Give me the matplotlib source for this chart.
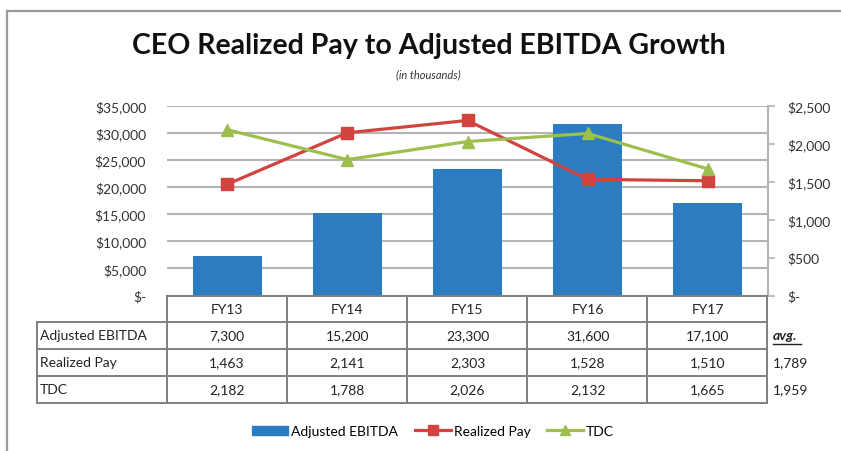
import numpy as np
import matplotlib
matplotlib.use("Agg")
import matplotlib.pyplot as plt
import matplotlib.transforms as mtransforms
from matplotlib.patches import Rectangle
from matplotlib.lines import Line2D

# Data (in thousands)
years = ["FY13", "FY14", "FY15", "FY16", "FY17"]
ebitda = [7300, 15200, 23300, 31600, 17100]
realized_pay = [1463, 2141, 2303, 1528, 1510]
tdc = [2182, 1788, 2026, 2132, 1665]
avg_realized = "1,789"
avg_tdc = "1,959"

left_ticks = [0, 5000, 10000, 15000, 20000, 25000, 30000, 35000]
right_ticks = [0, 500, 1000, 1500, 2000, 2500]

BLUE = "#2B7CC1"
RED = "#D2433F"
GREEN = "#9CBF4E"
GRID = "#B4B4B4"
TABLE = "#7F7F7F"

plt.rcParams['font.family'] = ['Lato', 'DejaVu Sans']

W, H = 841, 452
fig = plt.figure(figsize=(W / 100, H / 100), dpi=100)
# pixel transform, origin top-left
px = mtransforms.Affine2D().scale(1 / W, -1 / H).translate(0, 1) + fig.transFigure

# chart border: only left and top edges fall inside the picture
fig.add_artist(Line2D([7.5, 7.5], [12, H + 5], transform=px, color="#9A9A9A", linewidth=1.6))
fig.add_artist(Line2D([7.5, W + 5], [12, 12], transform=px, color="#9A9A9A", linewidth=1.6))

ax_l, ax_r, ax_t, ax_b = 167, 768, 106.5, 296.5
ax = fig.add_axes([ax_l / W, 1 - ax_b / H, (ax_r - ax_l) / W, (ax_b - ax_t) / H])
x = np.arange(len(years))

ax.bar(x, ebitda, width=0.575, color=BLUE, zorder=2)
ax.set_xlim(-0.5, len(years) - 0.5)
ax.set_ylim(0, 35000)
ax.set_yticks(left_ticks)
ax.set_yticklabels(["$-" if v == 0 else f"${v:,.0f}" for v in left_ticks])
ax.yaxis.grid(True, color=GRID, linewidth=1.5, zorder=0)
ax.set_axisbelow(True)
ax.set_xticks([])
ax.tick_params(axis="y", length=0, pad=15, labelsize=10, labelcolor="#333333")
for s in ["left", "top", "bottom", "right"]:
    ax.spines[s].set_visible(False)

ax2 = ax.twinx()
ax2.plot(x, realized_pay, color=RED, linewidth=2.3, marker="s", markersize=9, zorder=3)
ax2.plot(x, tdc, color=GREEN, linewidth=2.3, marker="^", markersize=9, zorder=3)
ax2.set_ylim(0, 2500)
ax2.set_yticks(right_ticks)
ax2.set_yticklabels(["$-" if v == 0 else f"${v:,.0f}" for v in right_ticks])
ax2.tick_params(axis="y", length=5, width=1.2, color=GRID, pad=9, labelsize=10,
                labelcolor="#333333")
for s in ["left", "top", "bottom"]:
    ax2.spines[s].set_visible(False)
ax2.spines["right"].set_color(GRID)
ax2.spines["right"].set_linewidth(1.5)

# title
fig.text(429 / W, 1 - 46 / H, "CEO Realized Pay to Adjusted EBITDA Growth",
         ha="center", va="center", fontsize=20.5, fontweight="bold", color="#111111")
fig.text(428 / W, 1 - 75 / H, "(in thousands)", ha="center", va="center",
         fontsize=8, style="italic", color="#333333")

# data table
rows_y = [296.5, 323, 350, 377, 404]
col_edges = [ax_l + 120 * i for i in range(len(years) + 1)]
lbl_left = 37
lw = 1.4

def hline(x0, x1, y):
    fig.add_artist(Line2D([x0, x1], [y, y], transform=px, color=TABLE, linewidth=lw))

def vline(xx, y0, y1):
    fig.add_artist(Line2D([xx, xx], [y0, y1], transform=px, color=TABLE, linewidth=lw))

hline(col_edges[0], col_edges[-1], rows_y[0])
for y in rows_y[1:]:
    hline(lbl_left, col_edges[-1], y)
for xx in col_edges:
    vline(xx, rows_y[0], rows_y[-1])
vline(lbl_left, rows_y[1], rows_y[-1])

tx = mtransforms.blended_transform_factory(ax.transData, px)
row_labels = ["Adjusted EBITDA", "Realized Pay", "TDC"]
row_values = [ebitda, realized_pay, tdc]
for i, yr in enumerate(years):
    ax.text(x[i], (rows_y[0] + rows_y[1]) / 2, yr, transform=tx, ha="center",
            va="center", fontsize=10, color="#222222", clip_on=False)
for r, (lab, vals) in enumerate(zip(row_labels, row_values)):
    yc = (rows_y[r + 1] + rows_y[r + 2]) / 2
    fig.text(40 / W, 1 - yc / H, lab, ha="left", va="center", fontsize=10, color="#222222")
    for i, v in enumerate(vals):
        ax.text(x[i], yc, f"{v:,}", transform=tx, ha="center", va="center",
                fontsize=10, color="#222222", clip_on=False)

# averages column
yc0 = (rows_y[1] + rows_y[2]) / 2
fig.text(773 / W, 1 - yc0 / H, "avg.", ha="left", va="center", fontsize=10,
         fontweight="bold", style="italic", color="#222222")
fig.add_artist(Line2D([773, 801], [yc0 + 8, yc0 + 8], transform=px, color="#222222", linewidth=1))
for r, val in enumerate([avg_realized, avg_tdc]):
    yc = (rows_y[r + 2] + rows_y[r + 3]) / 2
    fig.text(773 / W, 1 - yc / H, val, ha="left", va="center", fontsize=10, color="#222222")

# legend
handles = [
    Rectangle((0, 0), 1, 1, color=BLUE),
    Line2D([], [], color=RED, linewidth=2.3, marker="s", markersize=7),
    Line2D([], [], color=GREEN, linewidth=2.3, marker="^", markersize=7),
]
fig.legend(handles, ["Adjusted EBITDA", "Realized Pay", "TDC"], loc="center",
           bbox_to_anchor=(433 / W, 1 - 432 / H), ncol=3, frameon=False,
           fontsize=10, handlelength=2.6, handleheight=0.6, columnspacing=1.2,
           handletextpad=0.2)

fig.savefig("out.png", dpi=100)
